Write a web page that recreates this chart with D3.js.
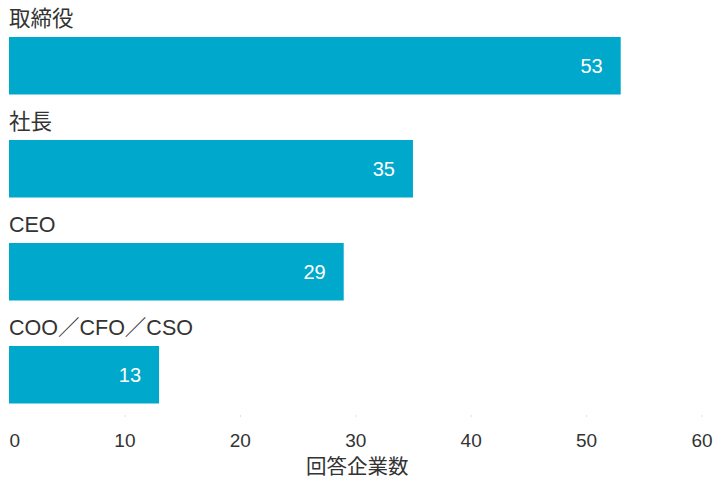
<!DOCTYPE html>
<html><head><meta charset="utf-8">
<script src="https://cdn.jsdelivr.net/npm/d3@7"></script>
<style>body{margin:0;background:#fff}svg{display:block}text{font-family:"Liberation Sans","Noto Sans CJK JP",sans-serif}</style>
</head><body>
<script>
const categories = ["取締役","社長","CEO","COO／CFO／CSO"];
const values = [53,35,29,13];
const tickValues = [0,10,20,30,40,50,60];
const axisTitle = "回答企業数";

const W=716,H=479;
const svg=d3.select("body").append("svg").attr("width",W).attr("height",H);
const x=d3.scaleLinear().domain([0,60]).range([9,701.5]);
const step=103, bw=57.5;
const yb=d3.scaleBand().domain(categories).range([37, 37+step*4-(step-bw)]).paddingInner((step-bw)/step).paddingOuter(0);

const g=svg.append("g");
g.selectAll("rect").data(categories).join("rect")
 .attr("x",x(0)).attr("y",d=>yb(d)).attr("width",(d,i)=>x(values[i])-x(0)).attr("height",yb.bandwidth())
 .attr("fill","#00a8cb");
g.selectAll("text.cat").data(categories).join("text").attr("class","cat")
 .attr("x",9).attr("y",d=>yb(d)-11).attr("font-size",21.5).attr("fill","#333").text(d=>d);
g.selectAll("text.val").data(categories).join("text").attr("class","val")
 .attr("x",(d,i)=>x(values[i])-18).attr("y",d=>yb(d)+yb.bandwidth()/2).attr("dy","0.36em")
 .attr("text-anchor","end").attr("font-size",20).attr("fill","#fff").text((d,i)=>values[i]);

const axis=d3.axisBottom(x).tickValues(tickValues).tickSize(2).tickPadding(17).tickFormat(d3.format("d"));
const ax=svg.append("g").attr("transform","translate(0,415)").call(axis);
ax.select(".domain").remove();
ax.selectAll(".tick line").attr("stroke","#ddd").attr("opacity",(d)=>d===0?0:1);
ax.selectAll(".tick text").attr("font-size",19).attr("fill","#333").attr("font-family","Liberation Sans, sans-serif")
 .attr("text-anchor",d=>d===0?"start":"middle");
svg.append("text").attr("x",(x(0)+x(60))/2+2).attr("y",474).attr("text-anchor","middle")
 .attr("font-size",20.5).attr("fill","#333").text(axisTitle);
</script>
</body></html>
